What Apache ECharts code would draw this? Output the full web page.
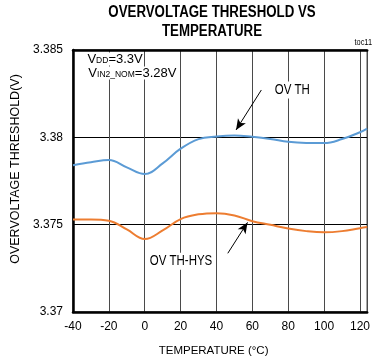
<!DOCTYPE html>
<html><head><meta charset="utf-8">
<script src="https://cdn.jsdelivr.net/npm/echarts@6/dist/echarts.min.js"></script>
<style>html,body{margin:0;padding:0;background:#fff}#c{width:373px;height:364px}</style>
</head><body><div id="c"></div>
<script>
var FONT = "'Liberation Sans', Arial, sans-serif";
var titleLines = ['OVERVOLTAGE THRESHOLD VS', 'TEMPERATURE'];
var xName = 'TEMPERATURE (°C)';
var yName = 'OVERVOLTAGE THRESHOLD(V)';
var xTicks = [-40, -20, 0, 20, 40, 60, 80, 100, 120];
var yTicks = [3.37, 3.375, 3.38, 3.385];
var temps = [-40, -30, -20, -10, 0, 10, 20, 30, 40, 50, 60, 70, 80, 90, 100, 110, 120, 124];
var ovTh = [3.3784, 3.37857, 3.3787, 3.37828, 3.3779, 3.37851, 3.37935, 3.3799, 3.38005, 3.38011, 3.38003, 3.37991, 3.37975, 3.37968, 3.37967, 3.3799, 3.38029, 3.3805];
var ovThHys = [3.37529, 3.3753, 3.37523, 3.37473, 3.37418, 3.37467, 3.37532, 3.37559, 3.37566, 3.37553, 3.3752, 3.37499, 3.37478, 3.37463, 3.37456, 3.37463, 3.3748, 3.37486];
// annotation anchors in data coordinates
var labelOvTh = { text: 'OV TH', at: [82.3, 3.38271] };
var labelOvThHys = { text: 'OV TH-HYS', at: [20.2, 3.3729] };
var labelVdd = { text: '{m|V}{s|DD}{m|=3.3V}', at: [-32.5, 3.38448] };
var labelVin = { text: '{m|V}{s|IN2_NOM}{m|=3.28V}', at: [-32.0, 3.38368] };
var arrowOvTh = [[65, 3.38271], [50.9, 3.38042]];
var arrowOvThHys = [[46.3, 3.37336], [57.3, 3.37513]];

function pairs(xs, ys) { return xs.map(function (x, i) { return [x, ys[i]]; }); }

var chart = echarts.init(document.getElementById('c'));
chart.setOption({
  animation: false,
  textStyle: { fontFamily: FONT },
  graphic: [
    { type: 'text', id: 'title', x: 212, y: 3, scaleX: 0.83, style: { text: titleLines.join('\n'), fontFamily: FONT, fontSize: 16, fontWeight: 'bold', fill: '#000', align: 'center', verticalAlign: 'top', lineHeight: 19 } },
    { type: 'text', id: 'toc', x: 372, y: 43, scaleX: 0.82, style: { text: 'toc11', fontFamily: FONT, fontSize: 9, fill: '#000', align: 'right', verticalAlign: 'middle' } }
  ],
  grid: { left: 73, top: 50, width: 299, height: 262, show: true, borderColor: '#000', borderWidth: 1, containLabel: false },
  xAxis: [{
    type: 'value', min: -40, max: 124, interval: 20,
    name: xName, nameLocation: 'middle', nameGap: 33,
    nameTextStyle: { fontFamily: FONT, fontSize: 11.5, color: '#000', padding: [0, 13, 0, 0] },
    axisLine: { show: true, onZero: false, lineStyle: { color: '#000', width: 2.5 } },
    axisTick: { show: false },
    axisLabel: { fontFamily: FONT, fontSize: 12, color: '#000', margin: 9, showMaxLabel: false,
      formatter: function (v) { return xTicks.indexOf(v) >= 0 ? String(v) : ''; } },
    splitLine: { show: true, lineStyle: { color: '#4a4a4a', width: 1 } }
  }, {
    type: 'value', min: -40, max: 124, interval: 20, position: 'top',
    axisLine: { show: true, onZero: false, lineStyle: { color: '#000', width: 2.5 } },
    axisTick: { show: false }, axisLabel: { show: false }, splitLine: { show: false }
  }],
  yAxis: {
    type: 'value', min: 3.37, max: 3.385, interval: 0.005,
    name: yName, nameLocation: 'middle', nameGap: 50,
    nameTextStyle: { fontFamily: FONT, fontSize: 12.5, color: '#000', padding: [0, 0, 0, 24] },
    axisLine: { show: true, onZero: false, lineStyle: { color: '#000', width: 2.5 } },
    axisTick: { show: false },
    axisLabel: { fontFamily: FONT, fontSize: 12, color: '#000', margin: 10,
      formatter: function (v) { var r = Math.round(v * 1000) / 1000; for (var i = 0; i < yTicks.length; i++) if (Math.abs(yTicks[i] - r) < 1e-6) return String(yTicks[i]); return ''; } },
    splitLine: { show: true, lineStyle: { color: '#000', width: 1 } }
  },
  series: [{
    name: 'OV TH', type: 'line', smooth: 0.4, symbol: 'none', data: pairs(temps, ovTh),
    lineStyle: { color: '#5b9bd5', width: 2 }, z: 3,
    markLine: {
      silent: true, symbol: ['none', 'arrow'], symbolSize: [7, 11], label: { show: false },
      lineStyle: { color: '#000', width: 1, type: 'solid' },
      data: [
        [{ coord: arrowOvTh[0] }, { coord: arrowOvTh[1] }],
        [{ coord: arrowOvThHys[0] }, { coord: arrowOvThHys[1] }]
      ]
    }
  }, {
    name: 'OV TH-HYS', type: 'line', smooth: 0.4, symbol: 'none', data: pairs(temps, ovThHys),
    lineStyle: { color: '#ed7d31', width: 2 }, z: 3
  }]
});

// place annotation texts at their data anchors
function px(at) { return chart.convertToPixel({ seriesIndex: 0 }, at); }
var rich = {
  m: { fontFamily: FONT, fontSize: 13, fill: '#000', verticalAlign: 'bottom' },
  s: { fontFamily: FONT, fontSize: 8.5, fill: '#000', verticalAlign: 'bottom' }
};
function narrowLabel(id, lab) {
  var p = px(lab.at);
  return { type: 'text', id: id, x: p[0], y: p[1], scaleX: 0.82, z: 10,
    style: { text: lab.text, fontFamily: FONT, fontSize: 14, fill: '#000', align: 'center', verticalAlign: 'middle', backgroundColor: '#fff', padding: [2, 3, 1, 3] } };
}
function richLabel(id, lab) {
  var p = px(lab.at);
  return { type: 'text', id: id, x: p[0], y: p[1], z: 10,
    style: { text: lab.text, rich: rich, fontFamily: FONT, fontSize: 13, fill: '#000', align: 'left', verticalAlign: 'middle', backgroundColor: '#fff', padding: [0, 1, 0, 1] } };
}
chart.setOption({ graphic: [
  narrowLabel('ovth', labelOvTh),
  narrowLabel('ovthhys', labelOvThHys),
  richLabel('vdd', labelVdd),
  richLabel('vin', labelVin)
] });
</script></body></html>
